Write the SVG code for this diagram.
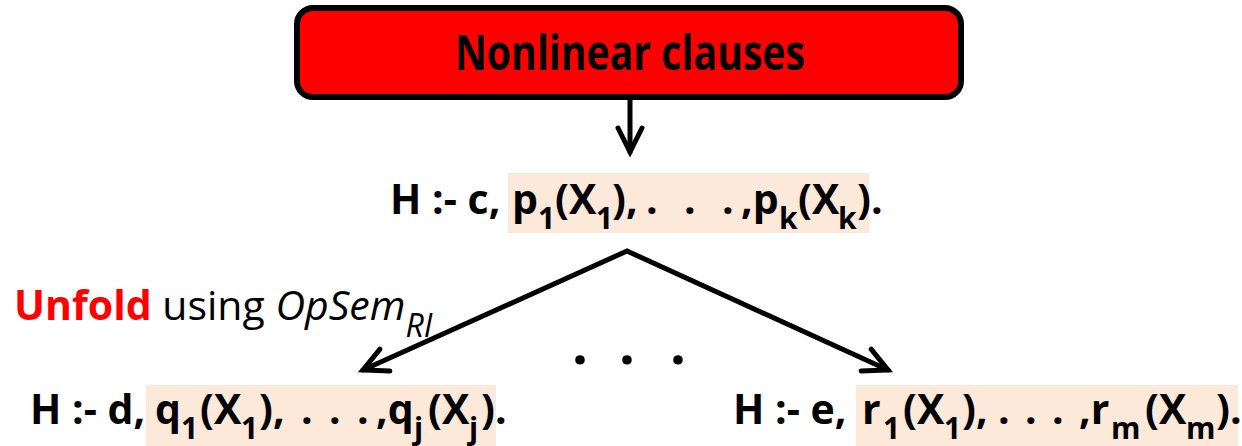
<svg xmlns="http://www.w3.org/2000/svg" width="1242" height="446" viewBox="0 0 1242 446">
<defs>
<style>
.t{font-family:"Open Sans","Noto Sans",sans-serif;font-weight:bold;font-size:41px;fill:#000}
.s{font-size:30px}
.sp{font-size:2px}
.n{font-family:"Open Sans","Noto Sans",sans-serif;font-size:41px;fill:#000}
.hl{fill:#FDE9D9}
.c{fill:none;stroke:#000;stroke-width:5;stroke-linecap:round}
</style>
<marker id="ah" markerUnits="userSpaceOnUse" markerWidth="40" markerHeight="40" viewBox="-30 -20 40 40" refX="0" refY="0" orient="auto">
<path d="M-24,-12 L0,0 L-24,12" fill="none" stroke="#000" stroke-width="5" stroke-linejoin="miter" stroke-linecap="round"/>
</marker>
</defs>
<rect width="1242" height="446" fill="#fff"/>

<g id="nonlinear">
<rect x="297" y="8" width="664" height="89" rx="16" ry="16" fill="#FF0000" stroke="#000" stroke-width="6"/>
<text class="t" x="630" y="70" text-anchor="middle" style="font-size:48px" textLength="350" lengthAdjust="spacingAndGlyphs">Nonlinear clauses</text>
</g>

<g id="clause">
<rect class="hl" x="508" y="173" width="361" height="60"/>
<text class="t" y="214"><tspan x="390">H :- c, </tspan><tspan x="512">p</tspan><tspan class="s" x="538" y="229">1</tspan><tspan x="555" y="214">(</tspan><tspan x="569">X</tspan><tspan class="s" x="596" y="229">1</tspan><tspan x="612" y="214">),</tspan><tspan class="sp"> </tspan><tspan x="646">.</tspan><tspan class="sp"> </tspan><tspan x="684">.</tspan><tspan class="sp"> </tspan><tspan x="722">.</tspan><tspan class="sp"> </tspan><tspan x="741">,p</tspan><tspan class="s" x="779" y="229">k</tspan><tspan x="798" y="214">(</tspan><tspan x="812">X</tspan><tspan class="s" x="838" y="229">k</tspan><tspan x="857" y="214">).</tspan></text>
</g>

<g id="unfold-label">
<text class="n" x="14" y="320"><tspan style="font-weight:bold;fill:#FF0000">Unfold</tspan> using <tspan font-style="italic">OpSem</tspan><tspan font-style="italic" dy="17" style="font-size:32px">RI</tspan></text>
</g>

<g id="ellipsis">
<text class="t" y="364" style="font-size:56px"><tspan x="572">.</tspan><tspan class="sp"> </tspan><tspan x="619">.</tspan><tspan class="sp"> </tspan><tspan x="670">.</tspan></text>
</g>

<g id="clause-left">
<rect class="hl" x="146" y="385" width="350" height="61"/>
<text class="t" y="424"><tspan x="30">H :- d, </tspan><tspan x="155">q</tspan><tspan class="s" x="181" y="439">1</tspan><tspan x="200" y="424">(</tspan><tspan x="214">X</tspan><tspan class="s" x="241" y="439">1</tspan><tspan x="259" y="424">),</tspan><tspan class="sp"> </tspan><tspan x="301">.</tspan><tspan class="sp"> </tspan><tspan x="329">.</tspan><tspan class="sp"> </tspan><tspan x="357">.</tspan><tspan class="sp"> </tspan><tspan x="376">,q</tspan><tspan class="s" x="414" y="439">j</tspan><tspan x="428" y="424">(</tspan><tspan x="442">X</tspan><tspan class="s" x="469" y="439">j</tspan><tspan x="481" y="424">).</tspan></text>
</g>

<g id="clause-right">
<rect class="hl" x="856" y="385" width="382" height="61"/>
<text class="t" y="424"><tspan x="733">H :- e, </tspan><tspan x="862">r</tspan><tspan class="s" x="883" y="439">1</tspan><tspan x="903" y="424">(</tspan><tspan x="917">X</tspan><tspan class="s" x="944" y="439">1</tspan><tspan x="962" y="424">),</tspan><tspan class="sp"> </tspan><tspan x="998">.</tspan><tspan class="sp"> </tspan><tspan x="1025">.</tspan><tspan class="sp"> </tspan><tspan x="1052">.</tspan><tspan class="sp"> </tspan><tspan x="1079">,r</tspan><tspan class="s" x="1111" y="439">m</tspan><tspan x="1145" y="424">(</tspan><tspan x="1159">X</tspan><tspan class="s" x="1186" y="439">m</tspan><tspan x="1216" y="424">).</tspan></text>
</g>

<g id="connectors">
<path class="c" d="M630,97 L630,152" marker-end="url(#ah)"/>
<path class="c" d="M627,251 L363,370" marker-end="url(#ah)"/>
<path class="c" d="M627,251 L888,370" marker-end="url(#ah)"/>
</g>
</svg>
